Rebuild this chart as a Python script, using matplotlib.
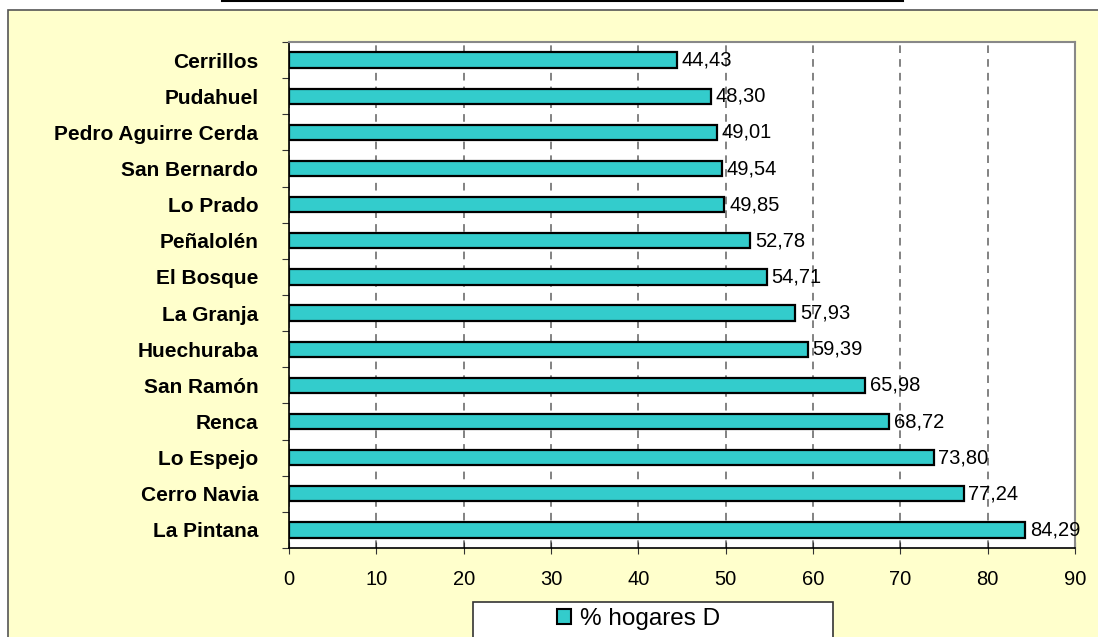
"""
Porcentaje de hogares D por comuna - grafico de barras horizontales
"""
import matplotlib
matplotlib.use("Agg")
import matplotlib.pyplot as plt
from matplotlib.patches import Rectangle, Patch
from matplotlib.lines import Line2D

# Datos
comunas = ['Cerrillos', 'Pudahuel', 'Pedro Aguirre Cerda', 'San Bernardo',
           'Lo Prado', 'Peñalolén', 'El Bosque', 'La Granja', 'Huechuraba',
           'San Ramón', 'Renca', 'Lo Espejo', 'Cerro Navia', 'La Pintana']
hogares_d = [44.43, 48.30, 49.01, 49.54, 49.85, 52.78, 54.71, 57.93,
             59.39, 65.98, 68.72, 73.80, 77.24, 84.29]
serie = '% hogares D'
x_ticks = list(range(0, 100, 10))

plt.rcParams['font.family'] = ['Liberation Sans', 'DejaVu Sans']

W, H = 1098, 637
fig = plt.figure(figsize=(W / 100, H / 100), dpi=100)
fig.patch.set_facecolor('white')

# fondo amarillo del area del grafico
fig.patches.append(Rectangle((8 / W, -0.05), 1.1, 1 - 10 / H + 0.05,
                             transform=fig.transFigure, facecolor='#FFFFCC',
                             edgecolor='#555555', lw=1.2, zorder=-10))
# linea del titulo (recortado arriba)
fig.lines.append(Line2D([222 / W, 903 / W], [1 - 1 / H, 1 - 1 / H],
                        transform=fig.transFigure, color='black', lw=1.5))

ax = fig.add_axes([289 / W, 89 / H, 786 / W, 506 / H])
ax.set_facecolor('white')

pos = list(range(len(comunas)))
bars = ax.barh(pos, hogares_d, height=0.42, color='#33CCCC',
               edgecolor='black', linewidth=1.6, zorder=3)

for y, v in zip(pos, hogares_d):
    ax.annotate(f'{v:.2f}'.replace('.', ','), xy=(v, y), xytext=(3.5, 0),
                textcoords='offset points', va='center', ha='left',
                fontsize=14.5, zorder=4)

ax.set_ylim(len(comunas) - 0.5, -0.5)
ax.set_xlim(0, 90)

# etiquetas de comunas al centro, marcas en los limites de cada categoria
ax.set_yticks([p - 0.5 for p in pos] + [len(comunas) - 0.5])
ax.set_yticklabels([])
ax.set_yticks(pos, minor=True)
ax.set_yticklabels(comunas, minor=True, fontsize=15, fontweight='bold')
ax.tick_params(axis='y', which='major', length=5, direction='out', color='#333333')
ax.tick_params(axis='y', which='minor', length=0, pad=22)

ax.set_xticks(x_ticks)
ax.set_xticklabels([str(t) for t in x_ticks], fontsize=14.5)
ax.tick_params(axis='x', length=9, direction='inout', pad=11, color='#333333')

ax.grid(axis='x', color='#606060', linestyle=(0, (5, 4)), linewidth=1.1, zorder=1)
ax.set_axisbelow(True)

for side in ['top', 'right']:
    ax.spines[side].set_color('#888888')
    ax.spines[side].set_linewidth(1.5)
for side in ['left', 'bottom']:
    ax.spines[side].set_color('black')
    ax.spines[side].set_linewidth(1.2)

# leyenda
fig.patches.append(Rectangle((473 / W, -0.05), 360 / W, (H - 602) / H + 0.05,
                             transform=fig.transFigure, facecolor='white',
                             edgecolor='#333333', lw=1.2, zorder=1))
handle = Patch(facecolor='#33CCCC', edgecolor='black', linewidth=1.5)
fig.legend([handle], [serie], loc='center left', bbox_to_anchor=(557 / W, 1 - 619 / H),
           frameon=False, fontsize=17.5, handlelength=0.58, handleheight=0.58,
           handletextpad=0.37, borderpad=0, borderaxespad=0)

fig.savefig('out.png', dpi=100)
